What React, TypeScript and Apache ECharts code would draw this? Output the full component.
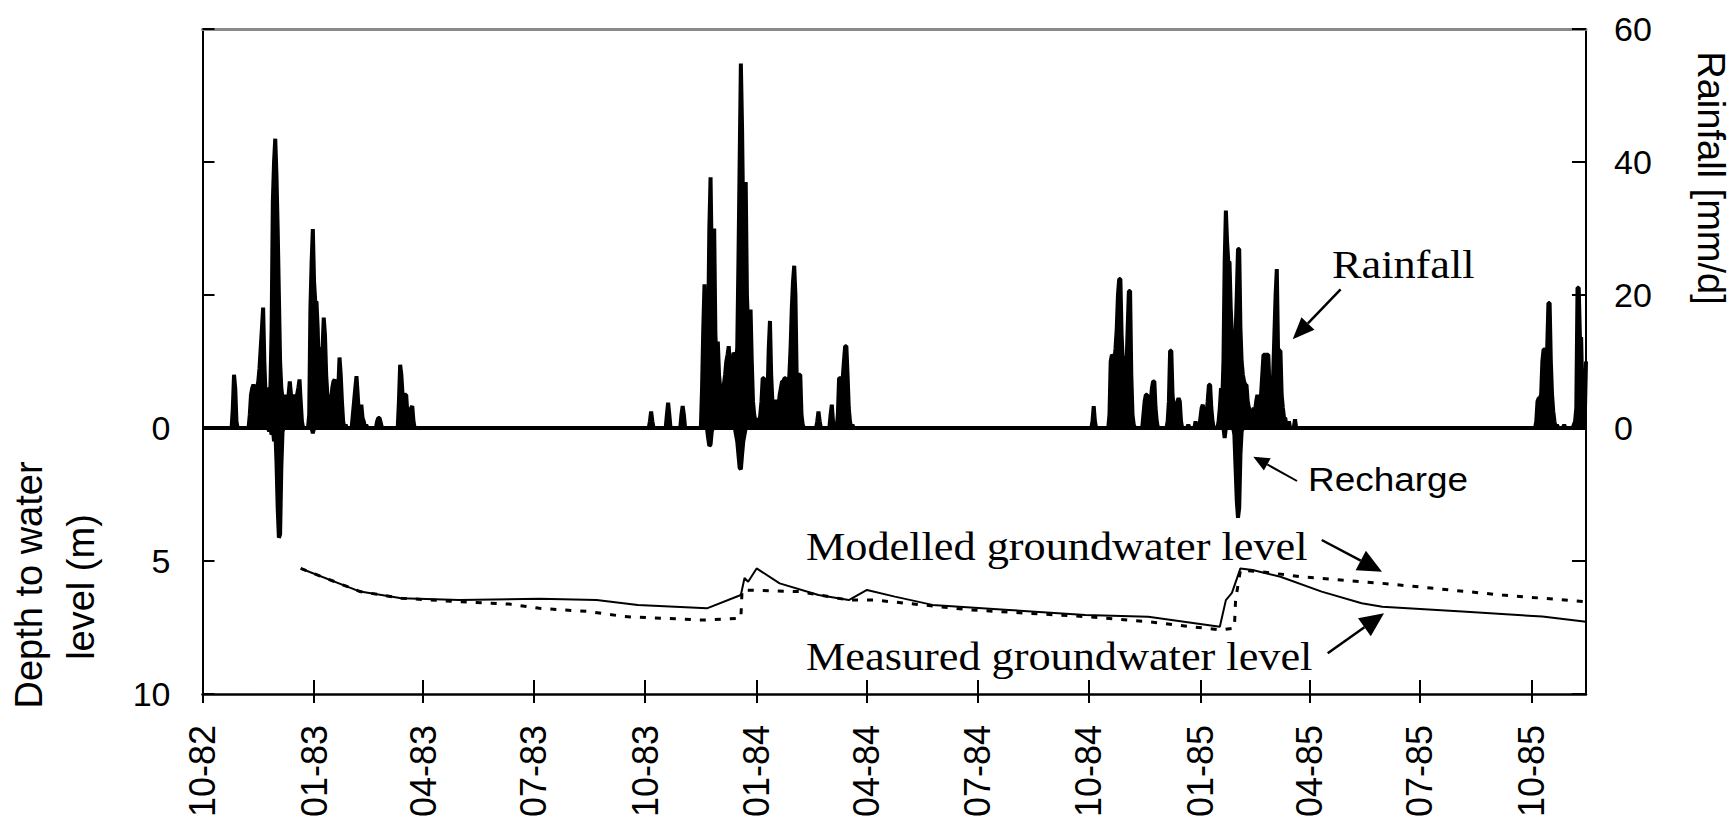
import React, { useEffect, useRef } from "react";
import * as echarts from "echarts";

// ---------- axis / category definition ----------
const START_DATE = "1982-10-01";
const DAY_COUNT = 1142; // 1982-10-01 .. 1985-11-15
const QUARTER_MONTHS = ["01", "04", "07", "10"];
const DEPTH_AXIS = { min: -15, max: 10, interval: 5 };
const RAIN_AXIS = { min: -40, max: 60, interval: 20 };

// ---------- data ----------
const rainfallEvents: [string, number][] = [
  ["1982-10-26", 3], ["1982-10-27", 8.0], ["1982-10-28", 6], ["1982-10-29", 1],
  ["1982-11-09", 2], ["1982-11-10", 5], ["1982-11-11", 6], ["1982-11-12", 6.5], ["1982-11-13", 6], ["1982-11-14", 5],
  ["1982-11-15", 6], ["1982-11-16", 7], ["1982-11-17", 9], ["1982-11-18", 12], ["1982-11-19", 15], ["1982-11-20", 18.1],
  ["1982-11-21", 10], ["1982-11-22", 5], ["1982-11-23", 4], ["1982-11-24", 5], ["1982-11-25", 6], ["1982-11-26", 6],
  ["1982-11-27", 15], ["1982-11-28", 34], ["1982-11-29", 40], ["1982-11-30", 43.5], ["1982-12-01", 38], ["1982-12-02", 30],
  ["1982-12-03", 20], ["1982-12-04", 10], ["1982-12-05", 6], ["1982-12-06", 4.5], ["1982-12-07", 4], ["1982-12-08", 5],
  ["1982-12-09", 4], ["1982-12-10", 4.5], ["1982-12-11", 5], ["1982-12-12", 7], ["1982-12-13", 5], ["1982-12-14", 4],
  ["1982-12-15", 5], ["1982-12-16", 4.5], ["1982-12-17", 4], ["1982-12-18", 5], ["1982-12-19", 6], ["1982-12-20", 7.3],
  ["1982-12-21", 4], ["1982-12-22", 1],
  ["1982-12-28", 2], ["1982-12-29", 18], ["1982-12-30", 25], ["1982-12-31", 29.9], ["1983-01-01", 22], ["1983-01-02", 19],
  ["1983-01-03", 19], ["1983-01-04", 15], ["1983-01-05", 8], ["1983-01-06", 10], ["1983-01-07", 12], ["1983-01-08", 12],
  ["1983-01-09", 16.6], ["1983-01-10", 14], ["1983-01-11", 8], ["1983-01-12", 5], ["1983-01-13", 4], ["1983-01-14", 5],
  ["1983-01-15", 4], ["1983-01-16", 6], ["1983-01-17", 7], ["1983-01-18", 7.3], ["1983-01-19", 5], ["1983-01-20", 4],
  ["1983-01-21", 6], ["1983-01-22", 10.6], ["1983-01-23", 8], ["1983-01-24", 4], ["1983-01-25", 1], ["1983-01-27", 0.5],
  ["1983-02-02", 2], ["1983-02-03", 4], ["1983-02-04", 6], ["1983-02-05", 7.8], ["1983-02-06", 5], ["1983-02-07", 2],
  ["1983-02-08", 2], ["1983-02-09", 3.5], ["1983-02-10", 1.5], ["1983-02-11", 1], ["1983-02-13", 0.5],
  ["1983-02-22", 1], ["1983-02-23", 1.5], ["1983-02-24", 1.5], ["1983-02-25", 0.8],
  ["1983-03-12", 4], ["1983-03-13", 9.5], ["1983-03-14", 8], ["1983-03-15", 5], ["1983-03-16", 4], ["1983-03-17", 5],
  ["1983-03-18", 5], ["1983-03-19", 2], ["1983-03-22", 3], ["1983-03-23", 3.3], ["1983-03-24", 1],
  ["1983-10-05", 1], ["1983-10-06", 2.5], ["1983-10-07", 1], ["1983-10-19", 2], ["1983-10-20", 3.8], ["1983-10-21", 2],
  ["1983-10-31", 2], ["1983-11-01", 3.3], ["1983-11-02", 2],
  ["1983-11-17", 6], ["1983-11-18", 15], ["1983-11-19", 21.6], ["1983-11-20", 10], ["1983-11-21", 8], ["1983-11-22", 15],
  ["1983-11-23", 30], ["1983-11-24", 37.7], ["1983-11-25", 25], ["1983-11-26", 20], ["1983-11-27", 30], ["1983-11-28", 14],
  ["1983-11-29", 10], ["1983-11-30", 13], ["1983-12-01", 8], ["1983-12-02", 6], ["1983-12-03", 5], ["1983-12-04", 6],
  ["1983-12-05", 6.5], ["1983-12-06", 8], ["1983-12-07", 10], ["1983-12-08", 11], ["1983-12-09", 12.3], ["1983-12-10", 9],
  ["1983-12-11", 8], ["1983-12-12", 10], ["1983-12-13", 11.3], ["1983-12-14", 11], ["1983-12-15", 10], ["1983-12-16", 12],
  ["1983-12-17", 25], ["1983-12-18", 40], ["1983-12-19", 54.8], ["1983-12-20", 45], ["1983-12-21", 30], ["1983-12-22", 35],
  ["1983-12-23", 37], ["1983-12-24", 20], ["1983-12-25", 15], ["1983-12-26", 12], ["1983-12-27", 17.8], ["1983-12-28", 10],
  ["1983-12-29", 4], ["1983-12-30", 2], ["1983-12-31", 1], ["1984-01-01", 1.5],
  ["1984-01-04", 2], ["1984-01-05", 4], ["1984-01-06", 7.5], ["1984-01-07", 7.5], ["1984-01-08", 4], ["1984-01-09", 3],
  ["1984-01-10", 5], ["1984-01-11", 12], ["1984-01-12", 16.1], ["1984-01-13", 8], ["1984-01-14", 4], ["1984-01-15", 4],
  ["1984-01-16", 4], ["1984-01-17", 4], ["1984-01-18", 4], ["1984-01-19", 3], ["1984-01-20", 5], ["1984-01-21", 6],
  ["1984-01-22", 7], ["1984-01-23", 7], ["1984-01-24", 7.5], ["1984-01-25", 7.5], ["1984-01-26", 6], ["1984-01-27", 5],
  ["1984-01-28", 8], ["1984-01-29", 12], ["1984-01-30", 18], ["1984-01-31", 22], ["1984-02-01", 24.4], ["1984-02-02", 20],
  ["1984-02-03", 8], ["1984-02-04", 8], ["1984-02-05", 8], ["1984-02-06", 8], ["1984-02-07", 2], ["1984-02-08", 0.5],
  ["1984-02-20", 1], ["1984-02-21", 2.5], ["1984-02-22", 1], ["1984-03-02", 2], ["1984-03-03", 3.5], ["1984-03-04", 1],
  ["1984-03-08", 2], ["1984-03-09", 7.5], ["1984-03-10", 7.5], ["1984-03-11", 7.5], ["1984-03-12", 7.5], ["1984-03-13", 10],
  ["1984-03-14", 12.3], ["1984-03-15", 12.3], ["1984-03-16", 8], ["1984-03-17", 3], ["1984-03-18", 1], ["1984-03-20", 0.5],
  ["1984-10-04", 1], ["1984-10-05", 3.3], ["1984-10-06", 1],
  ["1984-10-18", 2], ["1984-10-19", 10], ["1984-10-20", 11], ["1984-10-21", 10.8], ["1984-10-22", 10], ["1984-10-23", 12],
  ["1984-10-24", 15], ["1984-10-25", 20], ["1984-10-26", 22.4], ["1984-10-27", 22.4], ["1984-10-28", 14], ["1984-10-29", 10],
  ["1984-10-30", 10], ["1984-10-31", 10.8], ["1984-11-01", 9], ["1984-11-02", 15], ["1984-11-03", 20.6], ["1984-11-04", 20.6],
  ["1984-11-05", 8], ["1984-11-06", 2], ["1984-11-07", 0.5],
  ["1984-11-15", 2], ["1984-11-16", 4], ["1984-11-17", 5], ["1984-11-18", 5], ["1984-11-19", 4], ["1984-11-20", 3],
  ["1984-11-21", 4], ["1984-11-22", 6], ["1984-11-23", 7], ["1984-11-24", 7], ["1984-11-25", 3], ["1984-11-26", 1],
  ["1984-12-05", 1], ["1984-12-06", 4], ["1984-12-07", 11.6], ["1984-12-08", 11.6], ["1984-12-09", 5], ["1984-12-10", 3],
  ["1984-12-11", 2], ["1984-12-12", 3], ["1984-12-13", 4], ["1984-12-14", 4.5], ["1984-12-15", 4], ["1984-12-16", 1],
  ["1984-12-22", 0.5], ["1984-12-28", 1], ["1985-01-01", 1.5], ["1985-01-02", 3], ["1985-01-03", 3.5], ["1985-01-04", 2],
  ["1985-01-06", 2], ["1985-01-07", 4], ["1985-01-08", 6.5], ["1985-01-09", 6.5], ["1985-01-10", 3], ["1985-01-11", 1],
  ["1985-01-16", 1], ["1985-01-17", 3], ["1985-01-18", 6], ["1985-01-19", 4], ["1985-01-20", 10], ["1985-01-21", 25],
  ["1985-01-22", 32.7], ["1985-01-23", 28], ["1985-01-24", 25], ["1985-01-25", 25], ["1985-01-26", 18], ["1985-01-27", 14],
  ["1985-01-28", 14], ["1985-01-29", 14], ["1985-01-30", 14], ["1985-01-31", 20], ["1985-02-01", 26.9], ["1985-02-02", 26.9],
  ["1985-02-03", 15], ["1985-02-04", 10], ["1985-02-05", 8], ["1985-02-06", 7], ["1985-02-07", 6.5], ["1985-02-08", 6.5],
  ["1985-02-09", 4], ["1985-02-10", 3], ["1985-02-11", 2.5], ["1985-02-12", 2.5], ["1985-02-13", 2.5], ["1985-02-14", 3],
  ["1985-02-15", 2.5], ["1985-02-16", 4], ["1985-02-17", 5], ["1985-02-18", 3], ["1985-02-19", 3], ["1985-02-20", 5],
  ["1985-02-21", 8], ["1985-02-22", 11], ["1985-02-23", 11], ["1985-02-24", 11], ["1985-02-25", 11], ["1985-02-26", 11],
  ["1985-02-27", 6], ["1985-02-28", 5], ["1985-03-01", 5], ["1985-03-02", 8], ["1985-03-03", 14], ["1985-03-04", 20],
  ["1985-03-05", 23.9], ["1985-03-06", 12], ["1985-03-07", 11.6], ["1985-03-08", 11.6], ["1985-03-09", 5], ["1985-03-10", 3],
  ["1985-03-11", 1.5], ["1985-03-12", 1.5], ["1985-03-15", 1], ["1985-03-20", 1.3],
  ["1985-10-05", 1], ["1985-10-06", 4], ["1985-10-07", 4.5], ["1985-10-08", 4.5], ["1985-10-09", 5], ["1985-10-10", 10],
  ["1985-10-11", 11.8], ["1985-10-12", 11.8], ["1985-10-13", 11], ["1985-10-14", 12], ["1985-10-15", 18.8], ["1985-10-16", 18.8],
  ["1985-10-17", 10], ["1985-10-18", 5], ["1985-10-19", 2.5], ["1985-10-20", 1], ["1985-10-22", 0.5], ["1985-10-28", 0.5],
  ["1985-11-05", 0.5], ["1985-11-06", 1], ["1985-11-07", 3], ["1985-11-08", 21.1], ["1985-11-09", 21.1], ["1985-11-10", 13.6],
  ["1985-11-11", 13.6], ["1985-11-12", 5], ["1985-11-13", 1.5], ["1985-11-14", 1.5], ["1985-11-15", 10],
];

const rechargeEvents: [string, number][] = [
  ["1982-11-25", -0.5], ["1982-11-27", -1], ["1982-11-29", -2], ["1982-12-01", -5], ["1982-12-02", -12],
  ["1982-12-03", -16.5], ["1982-12-04", -16], ["1982-12-05", -6], ["1982-12-06", -0.5], ["1982-12-31", -0.8],
  ["1983-11-22", -1.5], ["1983-11-23", -2.7], ["1983-11-24", -2.5], ["1983-11-25", -0.5],
  ["1983-12-15", -1], ["1983-12-16", -2], ["1983-12-17", -4], ["1983-12-18", -6], ["1983-12-19", -6.2],
  ["1983-12-20", -4], ["1983-12-21", -2], ["1983-12-22", -1],
  ["1985-01-21", -1.5], ["1985-01-29", -1], ["1985-01-30", -6], ["1985-01-31", -11], ["1985-02-01", -13.5],
  ["1985-02-02", -12], ["1985-02-03", -4], ["1985-02-04", -0.5],
];

const measuredLevel: [string, number][] = [
  ["1982-12-21", 5.28], ["1983-02-08", 6.15], ["1983-03-14", 6.4], ["1983-05-01", 6.47], ["1983-07-06", 6.42],
  ["1983-08-22", 6.47], ["1983-09-25", 6.65], ["1983-11-21", 6.78], ["1983-12-19", 6.28], ["1983-12-22", 5.64],
  ["1983-12-25", 5.78], ["1984-01-01", 5.28], ["1984-01-20", 5.84], ["1984-02-21", 6.28], ["1984-03-17", 6.47],
  ["1984-04-01", 6.09], ["1984-04-24", 6.34], ["1984-05-25", 6.65], ["1984-07-27", 6.84], ["1984-09-28", 7.03],
  ["1984-11-19", 7.1], ["1985-01-17", 7.47], ["1985-01-22", 6.47], ["1985-01-27", 6.2], ["1985-02-03", 5.28],
  ["1985-02-13", 5.34], ["1985-03-08", 5.59], ["1985-04-11", 6.15], ["1985-05-14", 6.59], ["1985-05-31", 6.72],
  ["1985-08-05", 6.9], ["1985-10-10", 7.09], ["1985-11-15", 7.28],
];

const modelledLevel: [string, number][] = [
  ["1982-12-21", 5.28], ["1983-02-08", 6.15], ["1983-03-14", 6.4], ["1983-05-01", 6.53], ["1983-06-11", 6.62],
  ["1983-07-06", 6.78], ["1983-08-16", 6.9], ["1983-09-14", 7.09], ["1983-11-18", 7.22], ["1983-12-19", 7.15],
  ["1983-12-20", 6.09], ["1984-02-05", 6.15], ["1984-03-17", 6.47], ["1984-04-08", 6.47], ["1984-06-26", 6.84],
  ["1984-09-28", 7.09], ["1984-11-18", 7.28], ["1985-01-17", 7.59], ["1985-01-29", 7.52], ["1985-01-30", 6.47],
  ["1985-02-03", 5.34], ["1985-02-19", 5.4], ["1985-03-25", 5.59], ["1985-05-31", 5.84], ["1985-09-07", 6.28],
  ["1985-11-15", 6.53],
];

// ---------- helpers ----------
function buildDates(): string[] {
  const out: string[] = [];
  const [y, m, d] = START_DATE.split("-").map(Number);
  const t0 = Date.UTC(y, m - 1, d);
  for (let i = 0; i < DAY_COUNT; i++) {
    out.push(new Date(t0 + i * 86400000).toISOString().slice(0, 10));
  }
  return out;
}

function isQuarterStart(value: string): boolean {
  return value.slice(8, 10) === "01" && QUARTER_MONTHS.includes(value.slice(5, 7));
}

function arrow(x1: number, y1: number, x2: number, y2: number, len: number, half: number, width: number) {
  const dx = x2 - x1, dy = y2 - y1;
  const L = Math.hypot(dx, dy);
  const ux = dx / L, uy = dy / L;
  const bx = x2 - ux * len, by = y2 - uy * len;
  const px = -uy, py = ux;
  return [
    { type: "line", shape: { x1, y1, x2: bx, y2: by }, style: { stroke: "#000", lineWidth: width } },
    {
      type: "polygon",
      shape: { points: [[x2, y2], [bx + px * half, by + py * half], [bx - px * half, by - py * half]] },
      style: { fill: "#000" },
    },
  ];
}

const SANS = '"Liberation Sans", Arial, sans-serif';
const SERIF = '"Liberation Serif", "Times New Roman", serif';

function serifLabel(text: string, x: number, y: number) {
  return {
    type: "text", x, y, scaleX: 1.08,
    style: { text, font: `41px ${SERIF}`, fill: "#000", align: "left", verticalAlign: "middle", textAlign: "left", textVerticalAlign: "middle" },
  };
}

export default function App() {
  const ref = useRef<HTMLDivElement>(null);

  useEffect(() => {
    if (!ref.current) return;
    const chart = echarts.init(ref.current, null, { renderer: "svg" });
    const dates = buildDates();
    const rainMap = new Map(rainfallEvents);
    const rechMap = new Map(rechargeEvents);
    const rainData = dates.map((d) => rainMap.get(d) ?? 0);
    const rechData = dates.map((d) => rechMap.get(d) ?? 0);

    const fmtDate = (v: string) => `${v.slice(5, 7)}-${v.slice(2, 4)}`;
    const tickInterval = (_i: number, v: string) => isQuarterStart(v);

    const option: any = {
      animation: false,
      backgroundColor: "#fff",
      textStyle: { fontFamily: SANS, color: "#000" },
      grid: { left: 202.5, right: 146, top: 29, bottom: 128, containLabel: false, outerBoundsMode: "none" },
      xAxis: [
        {
          type: "category", data: dates, boundaryGap: false, position: "bottom",
          axisLine: { show: true, onZero: false, lineStyle: { color: "#000", width: 2.5 } },
          axisTick: { show: true, inside: true, length: 14, interval: tickInterval, lineStyle: { color: "#000", width: 2 } },
          axisLabel: {
            show: true, interval: tickInterval, rotate: 90, margin: 31, formatter: fmtDate,
            fontSize: 36, fontFamily: SANS, color: "#000",
          },
          splitLine: { show: false },
        },
        {
          type: "category", data: dates, boundaryGap: false, position: "bottom",
          axisLine: { show: false, onZero: false },
          axisTick: { show: true, inside: false, length: 9, interval: tickInterval, lineStyle: { color: "#000", width: 2 } },
          axisLabel: { show: false },
          splitLine: { show: false },
        },
        {
          type: "category", data: dates, boundaryGap: false, position: "top",
          axisLine: { show: true, onZero: false, lineStyle: { color: "#8a8a8a", width: 3 } },
          axisTick: { show: false }, axisLabel: { show: false }, splitLine: { show: false },
        },
      ],
      yAxis: [
        {
          type: "value", position: "left", inverse: true,
          min: DEPTH_AXIS.min, max: DEPTH_AXIS.max, interval: DEPTH_AXIS.interval,
          axisLine: { show: true, onZero: false, lineStyle: { color: "#000", width: 2 } },
          axisTick: { show: true, inside: true, length: 12, lineStyle: { color: "#000", width: 2 } },
          axisLabel: {
            show: true, margin: 32, fontSize: 34, fontFamily: SANS, color: "#000",
            formatter: (v: number) => (v >= 0 ? String(v) : ""),
          },
          splitLine: { show: false },
        },
        {
          type: "value", position: "right",
          min: RAIN_AXIS.min, max: RAIN_AXIS.max, interval: RAIN_AXIS.interval,
          axisLine: { show: true, onZero: false, lineStyle: { color: "#000", width: 2 } },
          axisTick: { show: true, inside: true, length: 14, lineStyle: { color: "#000", width: 2 } },
          axisLabel: {
            show: true, margin: 28, fontSize: 34, fontFamily: SANS, color: "#000",
            formatter: (v: number) => (v >= 0 ? String(v) : ""),
          },
          splitLine: { show: false },
        },
      ],
      series: [
        {
          name: "Rainfall", type: "line", xAxisIndex: 0, yAxisIndex: 1, data: rainData,
          symbol: "none", showSymbol: false, lineStyle: { color: "#000", width: 4 },
          areaStyle: { color: "#000", opacity: 1 }, z: 2,
        },
        {
          name: "Recharge", type: "line", xAxisIndex: 0, yAxisIndex: 1, data: rechData,
          symbol: "none", showSymbol: false, lineStyle: { color: "#000", width: 4 },
          areaStyle: { color: "#000", opacity: 1 }, z: 2,
        },
        {
          name: "Modelled groundwater level", type: "line", xAxisIndex: 0, yAxisIndex: 0, data: modelledLevel,
          symbol: "none", showSymbol: false, lineStyle: { color: "#000", width: 3, type: [6, 9] }, z: 3,
        },
        {
          name: "Measured groundwater level", type: "line", xAxisIndex: 0, yAxisIndex: 0, data: measuredLevel,
          symbol: "none", showSymbol: false, lineStyle: { color: "#000", width: 2 }, z: 4,
        },
      ],
      graphic: [
        {
          type: "text", x: 29, y: 585, rotation: Math.PI / 2,
          style: { text: "Depth to water", font: `38px ${SANS}`, fill: "#000", align: "center", verticalAlign: "middle", textAlign: "center", textVerticalAlign: "middle" },
        },
        {
          type: "text", x: 80.5, y: 587, rotation: Math.PI / 2,
          style: { text: "level (m)", font: `38px ${SANS}`, fill: "#000", align: "center", verticalAlign: "middle", textAlign: "center", textVerticalAlign: "middle" },
        },
        {
          type: "text", x: 1711, y: 178, rotation: -Math.PI / 2,
          style: { text: "Rainfall [mm/d]", font: `38px ${SANS}`, fill: "#000", align: "center", verticalAlign: "middle", textAlign: "center", textVerticalAlign: "middle" },
        },
        serifLabel("Rainfall", 1332, 264),
        serifLabel("Modelled groundwater level", 806, 546),
        serifLabel("Measured groundwater level", 806, 656),
        {
          type: "text", x: 1308, y: 479, scaleX: 1.12,
          style: { text: "Recharge", font: `33px ${SANS}`, fill: "#000", align: "left", verticalAlign: "middle", textAlign: "left", textVerticalAlign: "middle" },
        },
        ...arrow(1340.6, 289.3, 1292.7, 339.3, 22, 9, 2.5),
        ...arrow(1297, 481, 1253.3, 456.7, 16, 7, 2),
        ...arrow(1321.7, 540, 1382, 571.7, 24, 11, 2.5),
        ...arrow(1327.7, 653.3, 1384, 613.3, 24, 11, 2.5),
      ],
    };

    chart.setOption(option);
    return () => chart.dispose();
  }, []);

  return (
    <div
      ref={ref}
      style={{ position: "absolute", left: 0, top: 0, width: 1732, height: 822, background: "#fff" }}
    />
  );
}
